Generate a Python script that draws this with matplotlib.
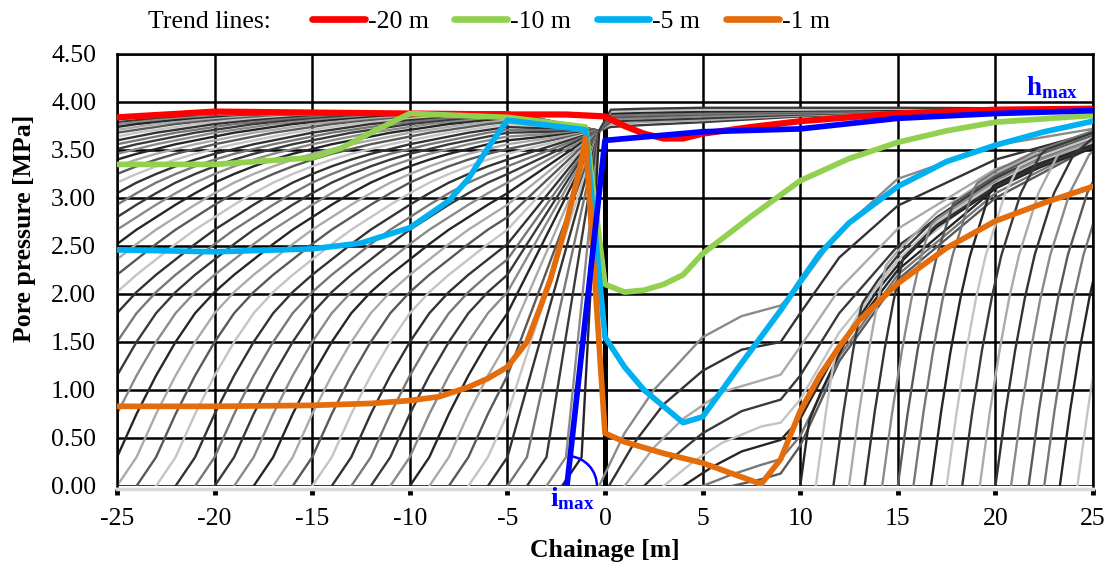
import numpy as np
import matplotlib.pyplot as plt
from matplotlib.patches import Arc
from matplotlib.lines import Line2D

plt.rcParams['font.family'] = ['Liberation Serif', 'DejaVu Serif']
plt.rcParams['axes.unicode_minus'] = False
plt.rcParams['mathtext.fontset'] = 'custom'
plt.rcParams['mathtext.rm'] = 'Liberation Serif'
plt.rcParams['mathtext.bf'] = 'Liberation Serif:bold'

# trend lines: chainage [m] / pore pressure [MPa]
x_20 = [-25, -20, -15, -10, -5, -2, 0, 1, 2, 3, 4, 5, 7.5, 10, 15, 20, 25]
p_20 = [3.84, 3.90, 3.89, 3.88, 3.87, 3.87, 3.85, 3.75, 3.67, 3.62, 3.62, 3.67, 3.74, 3.80, 3.88, 3.92, 3.93]

x_10 = [-25, -20, -15, -13.5, -12, -10, -5, -1, 0, 1, 2, 3, 4, 5, 7.5, 10, 12.5, 15, 17.5, 20, 25]
p_10 = [3.35, 3.35, 3.42, 3.52, 3.68, 3.88, 3.84, 3.74, 2.10, 2.02, 2.04, 2.10, 2.20, 2.42, 2.81, 3.18, 3.41, 3.58, 3.70, 3.79, 3.86]

x_5 = [-25, -20, -15, -12.5, -10, -8, -7, -6, -5, -1, 0, 1, 2, 4, 5, 7, 9, 10, 11, 12.5, 15, 17.5, 20, 22.5, 25]
p_5 = [2.46, 2.44, 2.47, 2.53, 2.69, 2.97, 3.20, 3.52, 3.81, 3.71, 1.55, 1.24, 1.00, 0.66, 0.72, 1.28, 1.83, 2.13, 2.42, 2.74, 3.12, 3.38, 3.55, 3.69, 3.80]

x_1 = [-25, -20, -15, -12, -10, -8.5, -7, -6, -5, -4, -3.3, -2.8, -2, -1.3, -1, 0, 1, 3, 5, 8, 9, 10, 11, 12, 13, 15, 17.5, 20, 22.5, 25]
p_1 = [0.83, 0.83, 0.84, 0.86, 0.89, 0.93, 1.03, 1.12, 1.24, 1.50, 1.87, 2.15, 2.72, 3.30, 3.62, 0.55, 0.46, 0.34, 0.24, 0.02, 0.28, 0.78, 1.15, 1.45, 1.72, 2.11, 2.48, 2.76, 2.95, 3.12]

# maximum head line
x_h = [-1.95, 0, 5, 10, 15, 20, 25]
p_h = [0.0, 3.60, 3.69, 3.72, 3.83, 3.88, 3.91]

# behind the face: pressure vs distance from the zero-pressure point
rise_d = [0, 1, 2, 3, 4, 5, 6, 7, 8, 9, 10, 11, 12, 13, 14, 15, 16, 17, 18, 19, 20,
          21, 22, 23, 24, 25, 26, 28, 30, 35, 45, 60]
rise_p = [0, 0.30, 0.75, 1.15, 1.50, 1.80, 2.02, 2.20, 2.36, 2.52, 2.67, 2.80, 2.93,
          3.05, 3.16, 3.25, 3.33, 3.40, 3.46, 3.51, 3.56, 3.60, 3.64, 3.68, 3.71, 3.74,
          3.77, 3.81, 3.84, 3.87, 3.89, 3.90]
left_x0 = list(range(-52, -2)) + [-2.2]
face_x, face_p = -0.3, 3.70
fan_from = -5.0

# ahead of the face: flat bundle near the top
band_x = [-0.3, 0.3, 2, 5, 10, 15, 25]
band_p = [
    [3.70, 3.74, 3.76, 3.79, 3.85, 3.89, 3.92],
    [3.70, 3.77, 3.79, 3.81, 3.86, 3.89, 3.92],
    [3.70, 3.80, 3.81, 3.83, 3.87, 3.90, 3.92],
    [3.70, 3.82, 3.83, 3.85, 3.88, 3.90, 3.92],
    [3.70, 3.84, 3.85, 3.87, 3.89, 3.91, 3.93],
    [3.70, 3.86, 3.87, 3.88, 3.90, 3.91, 3.93],
    [3.70, 3.88, 3.89, 3.90, 3.91, 3.92, 3.93],
    [3.70, 3.90, 3.91, 3.92, 3.92, 3.93, 3.93],
    [3.70, 3.92, 3.93, 3.94, 3.94, 3.94, 3.93],
]

# ahead of the face: profiles with the kink at 9 m
mid_x = [
    [-0.3, 1, 2.5, 5, 7, 9, 10, 12, 15, 20, 25],
    [0.2, 1.5, 3, 5, 7, 9, 10, 12, 15, 20, 25],
    [1.0, 2.5, 4, 6, 9, 10, 12, 15, 20, 25],
    [2.0, 3.5, 5, 7, 9, 10, 12, 15, 20, 25],
    [3.0, 4.5, 6, 8, 9, 10, 12, 15, 20, 25],
    [4.0, 5.5, 7, 9, 10, 12, 15, 20, 25],
    [5.0, 6.5, 8, 9, 10, 12, 15, 20, 25],
    [6.5, 8, 9, 10, 12, 15, 20, 25],
]
mid_p = [
    [0, 0.55, 1.00, 1.55, 1.77, 1.88, 2.10, 2.65, 3.20, 3.55, 3.72],
    [0, 0.45, 0.85, 1.20, 1.42, 1.50, 1.80, 2.38, 2.92, 3.40, 3.68],
    [0, 0.40, 0.70, 0.98, 1.16, 1.45, 2.05, 2.68, 3.30, 3.65],
    [0, 0.30, 0.55, 0.78, 0.90, 1.15, 1.80, 2.50, 3.22, 3.62],
    [0, 0.25, 0.45, 0.62, 0.66, 0.90, 1.60, 2.35, 3.15, 3.60],
    [0, 0.20, 0.36, 0.48, 0.70, 1.45, 2.25, 3.10, 3.58],
    [0, 0.12, 0.22, 0.28, 0.52, 1.35, 2.20, 3.05, 3.56],
    [0, 0.07, 0.13, 0.42, 1.30, 2.15, 3.00, 3.54],
]

# steep profiles on the right merging into the bundle
bundle_x = [9.2, 10, 11, 12, 13, 14, 15, 17, 20, 22, 25]
bundle_p = [0, 0.45, 0.95, 1.38, 1.75, 2.05, 2.30, 2.70, 3.10, 3.30, 3.52]
steep_d = [0, 0.5, 1, 1.5, 2, 3, 4, 6]
steep_p = [0, 0.75, 1.40, 1.95, 2.40, 3.05, 3.45, 3.80]
right_x0 = [10.0, 10.8, 11.7, 12.5, 13.3, 14.2, 15.0, 15.8, 16.7, 17.5, 18.3,
            19.2, 20.0, 20.8, 21.7, 22.5, 23.3, 24.2]
right_off = [0.00, 0.05, 0.10, 0.15, 0.02, 0.08, 0.13, 0.18, 0.04, 0.11, 0.16,
             0.06, 0.20, 0.09, 0.14, 0.03, 0.17, 0.12]

greys = ['#3a3a3a', '#8a8a8a', '#262626', '#aaaaaa', '#595959', '#c4c4c4', '#333333', '#777777']

fig = plt.figure(figsize=(11.09, 5.69), dpi=100)
ax = fig.add_axes([117 / 1109, 1 - 486 / 569, (1093 - 117) / 1109, (486 - 54) / 569])

gw = 1.7
n = 0
for x0 in left_x0:
    xb = max(fan_from, x0 + 1)
    d = np.array(rise_d, dtype=float)
    xs = x0 + d
    keep = xs < xb
    px = list(xs[keep]) + [xb, face_x]
    py = list(np.array(rise_p)[keep]) + [np.interp(xb - x0, rise_d, rise_p), face_p]
    ax.plot(px, py, color=greys[n % len(greys)], lw=gw, zorder=2)
    n += 1

for k, row in enumerate(band_p):
    ax.plot([face_x] + band_x[1:], [face_p] + row[1:], color=greys[(k * 3) % len(greys)], lw=gw, zorder=2)

for k, (mx, mp) in enumerate(zip(mid_x, mid_p)):
    ax.plot(mx, mp, color=greys[(k * 5 + 1) % len(greys)], lw=gw, zorder=2)

for k, (x0, off) in enumerate(zip(right_x0, right_off)):
    xs = np.linspace(x0, 25, 160)
    ys = np.minimum(np.interp(xs - x0, steep_d, steep_p),
                    np.interp(xs, bundle_x, bundle_p) + off)
    ax.plot(xs, ys, color=greys[(k * 3 + 2) % len(greys)], lw=gw, zorder=2)

# face line
ax.axvline(0, color='black', lw=3.6, zorder=1.5)

tw = 4.1
ax.plot(x_20, p_20, color='#ff0000', lw=4.5, zorder=5)
ax.plot(x_10, p_10, color='#92d050', lw=tw, zorder=6)
ax.plot(x_5, p_5, color='#00b0f0', lw=tw, zorder=7)
ax.plot(x_1, p_1, color='#e46c0a', lw=tw, zorder=8)
ax.plot(x_h, p_h, color='#0000ff', lw=tw, zorder=9)

# inclination arc at the foot of the h_max line
ang = np.degrees(np.arctan2(p_h[1] - p_h[0], x_h[1] - x_h[0]))
ax.add_patch(Arc((x_h[0], 0), width=2 * 30 / 19.52, height=2 * 30 / 96.0,
                 theta1=0, theta2=ang, color='#0000ff', lw=1.8, zorder=9))

ax.text(21.55, 4.07, r'$\mathbf{h_{max}}$', color='#0000ff', fontsize=19.5,
        va='baseline', ha='left', zorder=10)
ax.text(-2.8, -0.21, r'$\mathbf{i_{max}}$', color='#0000ff', fontsize=19.5,
        va='baseline', ha='left', clip_on=False, zorder=10)

ax.set_xlim(-25, 25)
ax.set_ylim(0, 4.5)
ax.set_xticks(range(-25, 26, 5))
ax.set_yticks(np.arange(0, 4.51, 0.5))
ax.set_yticklabels(['%.2f' % v for v in np.arange(0, 4.51, 0.5)])
ax.set_axisbelow(True)
ax.grid(True, color='black', lw=1.8)
ax.tick_params(axis='y', length=0, pad=15, labelsize=18.5)
ax.tick_params(axis='x', length=4, width=3.5, direction='out', pad=10, labelsize=18.5)
for s in ['left', 'right', 'top']:
    ax.spines[s].set_color('black')
    ax.spines[s].set_linewidth(1.8)
ax.spines['bottom'].set_color('#d9d9d9')
ax.spines['bottom'].set_linewidth(2.5)
ax.spines['bottom'].set_position(('outward', 2))

fig.text(605 / 1109, 1 - 551 / 569, 'Chainage [m]', ha='center', va='center',
         fontsize=18.5, fontweight='bold')
fig.text(25 / 1109, 1 - 228 / 569, 'Pore pressure [MPa]', ha='center', va='center',
         rotation=90, fontsize=18.5, fontweight='bold')

fig.text(148 / 1109, 1 - 22 / 569, 'Trend lines:', ha='left', va='center', fontsize=18.5)
handles = [Line2D([], [], color=c, lw=4.8, solid_capstyle='round')
           for c in ['#ff0000', '#92d050', '#00b0f0', '#e46c0a']]
fig.legend(handles, ['-20 m', '-10 m', '-5 m', '-1 m'], loc='center left',
           bbox_to_anchor=(312 / 1109, 1 - 22 / 569), ncol=4, frameon=False,
           fontsize=18.5, handlelength=2.05, handletextpad=0.12, columnspacing=1.0,
           borderpad=0, borderaxespad=0)

fig.savefig('out.png', dpi=100)
